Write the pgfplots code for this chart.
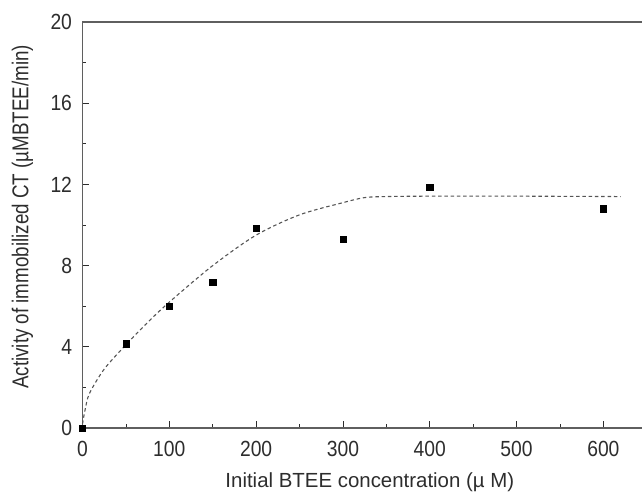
\documentclass[border=0pt]{standalone}
\usepackage{fontspec}
\setmainfont{Liberation Sans}
\newfontfamily\narrowfont[FakeStretch=0.88]{Liberation Sans}
\newfontfamily\condfont[FakeStretch=0.82]{Liberation Sans}
\usepackage{pgfplots}
\pgfplotsset{compat=1.18}

\definecolor{fitgray}{RGB}{85,85,85}
\definecolor{axisgray}{RGB}{95,95,95}
\definecolor{textgray}{RGB}{45,45,45}

\begin{document}
\begin{tikzpicture}[x=1bp,y=1bp]
\useasboundingbox (-82.5,-64) rectangle (559.5,428);
\begin{axis}[
  at={(0,0)}, anchor=origin,
  scale only axis,
  width=599bp, height=406bp,
  xmin=0, xmax=690, ymin=0, ymax=20,
  axis line style={axisgray, line width=1.5pt},
  xtick={0,100,...,600},
  ytick={0,4,...,20},
  minor xtick={50,150,...,650},
  minor ytick={2,6,...,18},
  xtick pos=bottom, ytick pos=left,
  tick align=inside,
  major tick length=7bp, minor tick length=4bp,
  tick style={textgray, line width=0.8pt},
  ticklabel style={font=\narrowfont\fontsize{22}{24}\selectfont, text=textgray},
  xticklabel style={yshift=-10bp},
  yticklabel style={xshift=-7bp},
  /pgf/number format/assume math mode=true,
  xlabel={Initial BTEE concentration (µ M)},
  ylabel={\condfont Activity of immobilized CT (µMBTEE/min)},
  label style={font=\fontsize{23}{26}\selectfont, text=textgray},
  xlabel style={font=\fontsize{20.5}{24}\selectfont, at={(axis cs:331,0)}, anchor=center, yshift=-54bp},
  ylabel style={at={(axis description cs:0,0.52)}, anchor=center, yshift=60bp},
  clip=false,
]
% fitted saturation curve
\addplot[fitgray, line width=1.1pt, dash pattern=on 3.5pt off 2.8pt, smooth, tension=0.5] coordinates {
  (0,0.2) (3,0.9) (8,1.7) (25,2.9) (50,4.1) (75,5.2) (100,6.2)
  (150,8.0) (200,9.5) (250,10.5) (300,11.1) (325,11.35) (350,11.4)
  (400,11.42) (500,11.42) (620,11.4)
};
% measured activities
\addplot[only marks, mark=square*, mark size=3.1bp, black] coordinates {
  (0,0) (50,4.15) (100,6.0) (150,7.2) (200,9.85) (300,9.3) (400,11.85) (600,10.8)
};
\end{axis}
\end{tikzpicture}
\end{document}
